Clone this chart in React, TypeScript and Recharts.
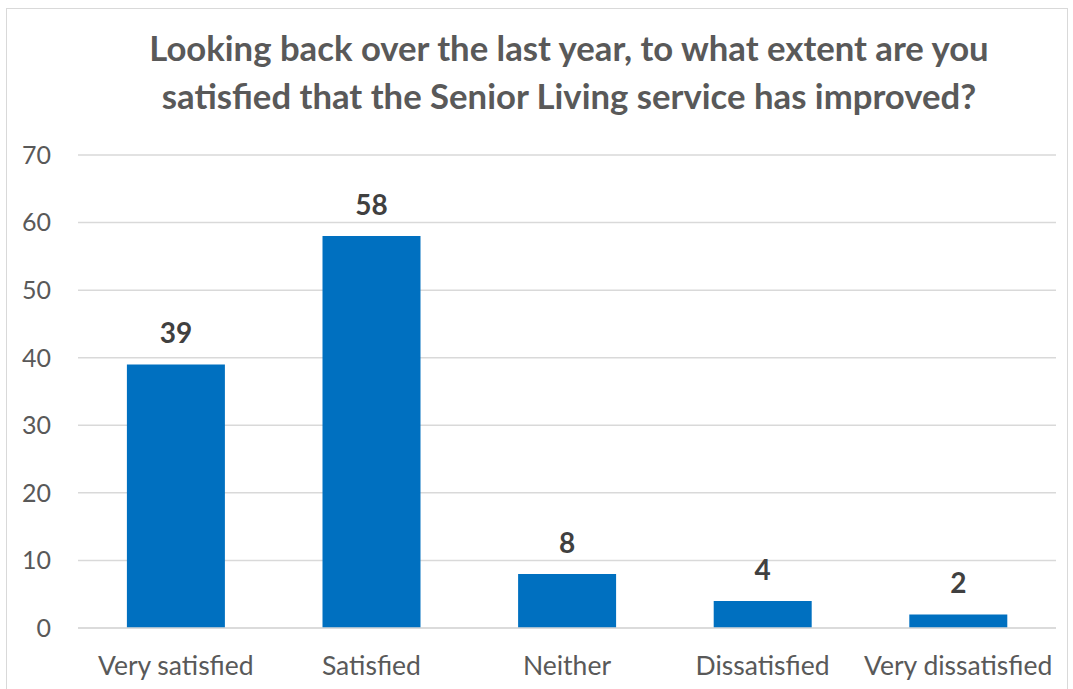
import { BarChart, Bar, XAxis, YAxis, CartesianGrid, LabelList } from "recharts";

const categories = ["Very satisfied", "Satisfied", "Neither", "Dissatisfied", "Very dissatisfied"];
const responses = [39, 58, 8, 4, 2];
const yTicks = [0, 10, 20, 30, 40, 50, 60, 70];

const data = categories.map((name, i) => ({ name, value: responses[i] }));

const FONT = "Lato, 'Open Sans', sans-serif";

export default function App() {
  return (
    <div
      style={{
        position: "fixed",
        left: 0,
        top: 0,
        width: 1073,
        height: 689,
        background: "#fff",
        fontFamily: FONT,
        overflow: "hidden",
      }}
    >
      {/* chart frame */}
      <div
        style={{
          position: "absolute",
          left: 6,
          top: 8,
          width: 1062,
          height: 700,
          border: "1px solid #d9d9d9",
          boxSizing: "border-box",
        }}
      />
      <div
        style={{
          position: "absolute",
          left: 70,
          width: 998,
          top: 24,
          textAlign: "center",
          color: "#595959",
          fontWeight: 700,
          fontSize: 34.7,
          lineHeight: "48px",
        }}
      >
        Looking back over the last year, to what extent are you
        <br />
        satisfied that the Senior Living service has improved?
      </div>
      <div style={{ position: "absolute", left: 0, top: 0 }}>
        <BarChart
          width={1073}
          height={689}
          data={data}
          margin={{ top: 155, right: 17, bottom: 0, left: 0 }}
          barCategoryGap="25%"
        >
          <CartesianGrid vertical={false} stroke="#d9d9d9" strokeWidth={1.5} />
          <XAxis
            dataKey="name"
            height={61}
            axisLine={{ stroke: "#d9d9d9", strokeWidth: 1.5 }}
            tickLine={false}
            tickSize={0}
            tickMargin={28}
            interval={0}
            tick={{ fill: "#595959", fontSize: 26.5, fontFamily: FONT }}
          />
          <YAxis
            width={78}
            domain={[0, 70]}
            ticks={yTicks}
            axisLine={false}
            tickLine={false}
            tickSize={0}
            tickMargin={27}
            tick={{ fill: "#595959", fontSize: 25, fontFamily: FONT }}
          />
          <Bar dataKey="value" fill="#0070c0" isAnimationActive={false}>
            <LabelList
              dataKey="value"
              position="top"
              offset={21}
              fill="#404040"
              fontSize={28}
              fontWeight={700}
              fontFamily={FONT}
            />
          </Bar>
        </BarChart>
      </div>
    </div>
  );
}
